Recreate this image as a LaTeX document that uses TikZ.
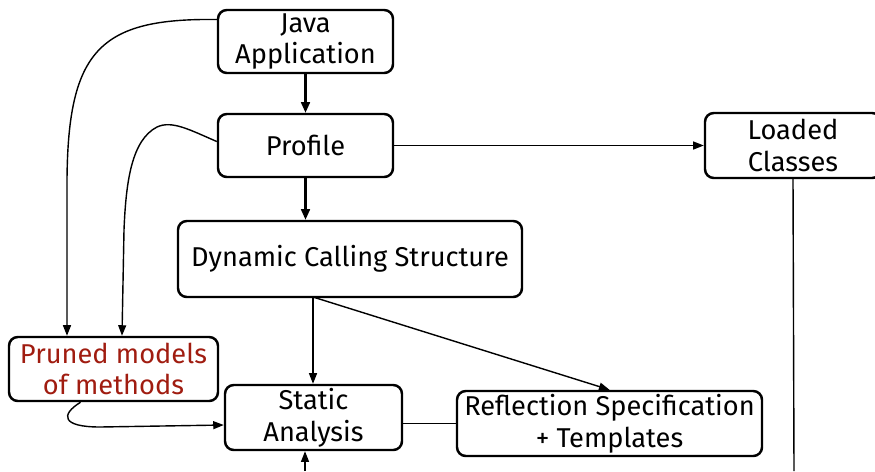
\documentclass[tikz,border=0pt]{standalone}
\usepackage{fontspec}
\setmainfont{Fira Sans}
\usetikzlibrary{arrows.meta,calc}
\definecolor{prunedred}{RGB}{160,28,16}
\begin{document}
\begin{tikzpicture}[x=0.02cm,y=-0.02cm,
  box/.style={draw,line width=1.4pt,rounded corners=5pt,align=center,inner sep=0pt,
    font=\fontsize{15.5}{18}\selectfont},
  con/.style={line width=0.8pt},
  arr/.style={con,-{Triangle[length=6pt,width=4.5pt]}},
  thickarr/.style={line width=1.2pt,-{Triangle[length=6pt,width=5pt]}}]
\useasboundingbox (0,0) rectangle (875,471);
\node[box,minimum width=175*0.02cm,minimum height=63*0.02cm] (java) at (305.5,41.5) {Java\\Application};
\node[box,minimum width=175*0.02cm,minimum height=63*0.02cm] (profile) at (305.5,145.5) {Profile};
\node[box,minimum width=176*0.02cm,minimum height=65*0.02cm] (loaded) at (793,145.5) {Loaded\\Classes};
\node[box,minimum width=344*0.02cm,minimum height=76*0.02cm] (dcs) at (350,259) {Dynamic Calling Structure};
\node[box,minimum width=209*0.02cm,minimum height=64*0.02cm,text=prunedred] (pruned) at (113.5,369) {Pruned models\\of methods};
\node[box,minimum width=177*0.02cm,minimum height=65*0.02cm] (sa) at (313.5,417.5) {Static\\Analysis};
\node[box,minimum width=305*0.02cm,minimum height=65*0.02cm] (refl) at (609.5,423.5) {Reflection Specification\\+ Templates};
\coordinate (dcsb) at (313,297);
\coordinate (bottomin) at (305,471);
\coordinate (bottomout) at (794,471);
\draw[thickarr] (java) -- (profile);
\draw[thickarr] (profile.south) -- (profile.south |- dcs.north);
\draw[arr] (profile) -- (loaded);
\draw[arr] (dcsb) -- (sa.north -| dcsb);
\draw[arr] (dcsb) -- (refl.north);
\draw[con] (sa.east |- refl.west) -- (refl.west);
\draw[con] (loaded.south) -- (bottomout);
\draw[arr] (bottomin) -- (bottomin |- sa.south);
\draw[arr] ($(java.west)+(0,-22)$) .. controls (100,18) and (68,50) .. (67,180) -- (pruned.north -| 67,0);
\draw[arr] ($(profile.west)+(0,-4)$) .. controls (190,130) and (172,120) .. (157,127) .. controls (132,140) and (126,180) .. (124,230) -- (pruned.north -| 122,0);
\draw[arr] ($(pruned.south)+(-33,0)$) .. controls (60,415) and (62,427) .. (100,427) -- (sa.west |- 0,425);
\end{tikzpicture}
\end{document}
